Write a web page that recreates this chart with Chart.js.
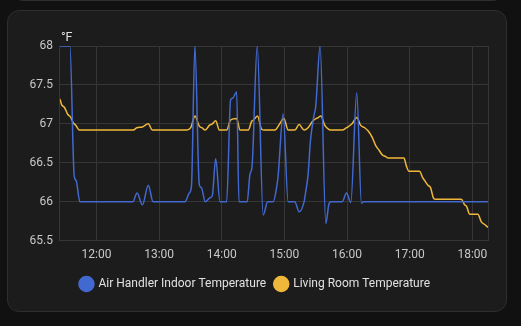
<!DOCTYPE html>
<html>
<head>
<meta charset="utf-8">
<script src="https://cdn.jsdelivr.net/npm/chart.js@4.4.1/dist/chart.umd.min.js"></script>
<style>
  html, body { margin: 0; padding: 0; background: #111111; width: 521px; height: 326px; overflow: hidden; }
  .card-above { position: absolute; left: 15px; top: -14px; width: 486px; height: 15px; background: #1c1c1c; border: 1px solid #2e2e2e; border-radius: 12px; box-sizing: border-box; }
  .card { position: absolute; left: 7px; top: 10px; width: 500px; height: 302px; background: #1c1c1c; border: 1px solid #2e2e2e; border-radius: 12px; box-sizing: border-box; }
  #chart { position: absolute; left: 0; top: 0; }
</style>
</head>
<body>
<div class="card-above"></div>
<div class="card"></div>
<canvas id="chart" width="521" height="326"></canvas>
<script>
(function () {
    "use strict";

    // minutes since midnight
    const airTimes = [685, 694.6, 698.7, 700.6, 704.1, 754.8, 758.9, 764, 769.7, 774.2,
        804.8, 808.9, 811, 814.3, 818.5, 820.5, 824.2, 828.7, 831, 834.2, 838.3,
        844.7, 848.5, 850.5, 854.3, 856.5, 864.4, 867, 869, 874, 879.7, 884,
        889.3, 892.5, 894, 898.8, 903.6, 910, 914.1, 918.9, 920, 922.7, 925,
        928.5, 930, 934.2, 939.7, 942.5, 944.4, 955.3, 959.5, 963.6, 969.3,
        973.8, 975.7, 1095];
    const airTemps = [68, 68, 66.33, 66.27, 66.0, 66.0, 66.11, 65.96, 66.21, 66.0,
        66.0, 66.11, 66.2, 68.0, 66.22, 66.18, 66.0, 66.05, 66.08, 66.55, 66.0,
        66.0, 67.31, 67.33, 67.41, 66.0, 66.0, 66.35, 66.45, 68.0, 65.83, 66.0,
        66.0, 66.18, 66.33, 67.13, 66.0, 66.0, 65.87, 66.0, 66.09, 66.35, 66.79,
        67.12, 67.22, 68.0, 65.72, 65.96, 66.0, 66.0, 66.11, 65.99, 67.4,
        65.98, 66.0, 66.0];

    const livingTimes = [685, 686.9, 689.4, 692.6, 695.1, 698, 700.3, 703.5, 755.4,
        758.6, 764, 769.7, 773.5, 806.5, 810.3, 814.4, 818.5, 821, 824.2, 828.1,
        831, 834.2, 837.7, 844.7, 848.5, 854.3, 857.4, 865.4, 868.6, 870.5, 874.3,
        878.2, 881, 890.9, 895.5, 899.5, 903.6, 910, 914.1, 918.9, 922.7, 927.5,
        932.3, 934.9, 938.7, 942.5, 945.1, 955.3, 959.5, 964.8, 969.3, 973.1,
        976.9, 980.1, 984, 987.5, 990.7, 993.9, 997, 999.3, 1014.5, 1016.8,
        1019.3, 1029.6, 1032, 1034.4, 1037.5, 1040, 1043, 1045, 1069.4, 1072.6,
        1074.5, 1077.4, 1085.3, 1088.6, 1091.5, 1095];
    const livingTemps = [67.32, 67.24, 67.21, 67.12, 67.09, 67.01, 66.98, 66.92, 66.92,
        66.95, 66.96, 67.0, 66.92, 66.92, 66.95, 67.1, 66.97, 66.95, 66.92, 66.98,
        67.0, 67.04, 66.92, 66.92, 67.05, 67.07, 66.92, 66.92, 67.03, 67.05, 67.1,
        66.93, 66.92, 66.92, 67.0, 67.07, 66.92, 66.92, 66.99, 66.92, 66.95, 67.04,
        67.08, 67.1, 66.98, 66.93, 66.92, 66.92, 66.95, 67.0, 67.08, 66.98,
        66.95, 66.91, 66.83, 66.72, 66.66, 66.6, 66.58, 66.56, 66.56, 66.46,
        66.39, 66.39, 66.32, 66.27, 66.21, 66.18, 66.04, 66.03, 66.03, 65.96,
        65.94, 65.84, 65.84, 65.74, 65.71, 65.67];

    const hourTicks = [720, 780, 840, 900, 960, 1020, 1080];
    const xMin = 685;
    const xMax = 1095;
    const unit = "°F";

    function pts(times, temps) {
        return times.map((t, i) => ({ x: t, y: temps[i] }));
    }

    const unitLabel = {
        id: "unitLabel",
        afterDraw(chart) {
            const ctx = chart.ctx;
            const area = chart.chartArea;
            ctx.save();
            ctx.font = "12.5px Roboto";
            ctx.fillStyle = "#e1e1e1";
            ctx.textAlign = "left";
            ctx.textBaseline = "alphabetic";
            ctx.fillText(unit, area.left + 1, area.top - 5);
            ctx.restore();
        },
    };

    const gridColor = "#363636";

    new Chart(document.getElementById("chart").getContext("2d"), {
        type: "line",
        data: {
            datasets: [
                {
                    label: "Air Handler Indoor Temperature",
                    data: pts(airTimes, airTemps),
                    borderColor: "#4269d0",
                    backgroundColor: "#4269d0",
                    borderWidth: 1.5,
                    pointRadius: 0,
                    cubicInterpolationMode: "monotone",
                },
                {
                    label: "Living Room Temperature",
                    data: pts(livingTimes, livingTemps),
                    borderColor: "#efb83a",
                    backgroundColor: "#efb83a",
                    borderWidth: 1.5,
                    pointRadius: 0,
                    cubicInterpolationMode: "monotone",
                },
            ],
        },
        options: {
            responsive: false,
            animation: false,
            layout: {
                padding: { left: 22.5, right: 33, top: 46, bottom: 26 },
            },
            scales: {
                x: {
                    type: "linear",
                    min: xMin,
                    max: xMax,
                    afterBuildTicks: (scale) => {
                        scale.ticks = hourTicks.concat([xMax]).map((v) => ({ value: v }));
                    },
                    grid: { color: gridColor, drawTicks: false },
                    border: { color: gridColor },
                    ticks: {
                        color: "#c8c8c8",
                        font: { family: "Roboto", size: 12 },
                        padding: 7,
                        maxRotation: 0,
                        autoSkip: false,
                        callback: (v) => (v % 60 === 0 ? String(v / 60).padStart(2, "0") + ":00" : ""),
                    },
                },
                y: {
                    min: 65.5,
                    max: 68,
                    grid: { color: gridColor, drawTicks: false },
                    border: { color: gridColor },
                    ticks: {
                        stepSize: 0.5,
                        color: "#c8c8c8",
                        font: { family: "Roboto", size: 12 },
                        padding: 7,
                        callback: (v) => String(+Number(v).toFixed(1)),
                    },
                },
            },
            plugins: {
                legend: {
                    position: "bottom",
                    labels: {
                        usePointStyle: true,
                        pointStyle: "circle",
                        boxWidth: 12.6,
                        boxHeight: 10.6,
                        padding: 9,
                        color: "#e1e1e1",
                        font: { family: "Roboto", size: 12 },
                    },
                },
                tooltip: { enabled: false },
            },
        },
        plugins: [unitLabel],
    });
})();
</script>
</body>
</html>
